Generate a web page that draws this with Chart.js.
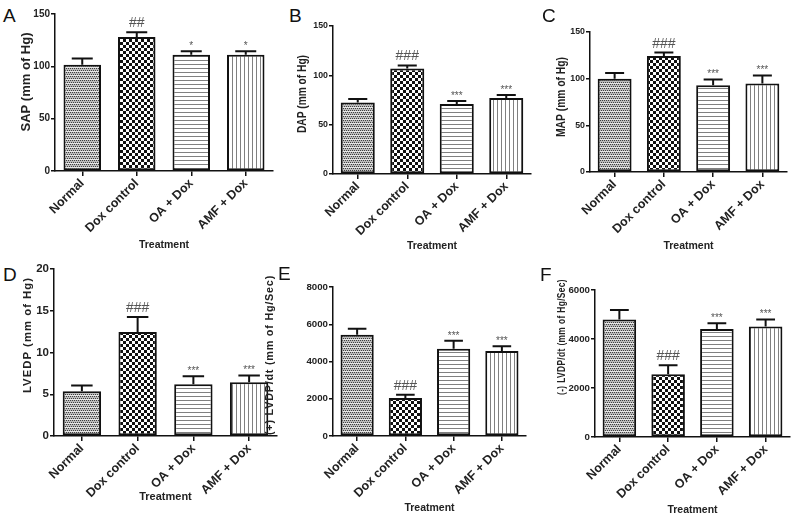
<!DOCTYPE html>
<html>
<head>
<meta charset="utf-8">
<script src="https://cdn.jsdelivr.net/npm/chart.js@4.4.0/dist/chart.umd.min.js"></script>
<style>
  body { margin: 0; background: #fff; width: 800px; height: 521px; position: relative; overflow: hidden; font-family: "Liberation Sans", Arial, sans-serif; }
  canvas { position: absolute; }
  .letter { position: absolute; font-size: 19px; line-height: 1; color: #111; }
</style>
</head>
<body>
<script>
// groups (x categories)
const groups = ["Normal", "Dox control", "OA + Dox", "AMF + Dox"];

// A - SAP
const sapMean = [101.5, 128, 111, 111];
const sapErr = [6, 4.5, 3.5, 3.5];
const sapMarks = ["", "##", "*", "*"];
// B - DAP
const dapMean = [72.5, 107, 71, 77];
const dapErr = [3.5, 3, 3, 3];
const dapMarks = ["", "###", "***", "***"];
// C - MAP
const mapMean = [100, 124.3, 93, 94.7];
const mapErr = [6, 3.7, 6.2, 8.8];
const mapMarks = ["", "###", "***", "***"];
// D - LVEDP
const lvedpMean = [5.35, 12.45, 6.2, 6.45];
const lvedpErr = [0.7, 1.8, 0.95, 0.8];
const lvedpMarks = ["", "###", "***", "***"];
// E - (+) LVDP/dt
const plusMean = [5440, 2040, 4690, 4570];
const plusErr = [320, 180, 430, 250];
const plusMarks = ["", "###", "***", "***"];
// F - (-) LVDP/dt
const minusMean = [4800, 2560, 4410, 4510];
const minusErr = [380, 370, 230, 290];
const minusMarks = ["", "###", "***", "***"];

// panel layout (page coords): canvas box, plot area, y title [x, y, size, spacing, length]
const panels = [
  { letter: "A", lx: 3, ly: 6, box: [0, 0, 278, 260], area: [55, 14, 273, 171], yt: [27, 82, 12, 0, 99], xTitleY: 245, tfs: 10,
    yTitle: "SAP (mm of Hg)", max: 150, step: 50, mean: sapMean, err: sapErr, marks: sapMarks },
  { letter: "B", lx: 289, ly: 6, box: [265, 0, 270, 260], area: [333, 26, 531, 174], yt: [303, 94, 12, 0, 78], xTitleY: 246, tfs: 8.8,
    yTitle: "DAP (mm of Hg)", max: 150, step: 50, mean: dapMean, err: dapErr, marks: dapMarks },
  { letter: "C", lx: 542, ly: 6, box: [530, 0, 270, 260], area: [590, 32, 787, 172], yt: [562, 97, 12, 0, 80], xTitleY: 246, tfs: 8.8,
    yTitle: "MAP (mm of Hg)", max: 150, step: 50, mean: mapMean, err: mapErr, marks: mapMarks },
  { letter: "D", lx: 3, ly: 265, box: [0, 260, 280, 261], area: [54, 269, 277, 436], yt: [28, 335, 11, 1, 116], xTitleY: 497, tfs: 11.5,
    yTitle: "LVEDP (mm of Hg)", max: 20, step: 5, mean: lvedpMean, err: lvedpErr, marks: lvedpMarks },
  { letter: "E", lx: 278, ly: 264, box: [258, 260, 272, 261], area: [333, 287, 526, 436], yt: [270, 355, 11, 0.8, 160], xTitleY: 508, tfs: 9.7,
    yTitle: "(+) LVDP/dt (mm of Hg/Sec)", max: 8000, step: 2000, mean: plusMean, err: plusErr, marks: plusMarks },
  { letter: "F", lx: 540, ly: 265, box: [530, 260, 270, 261], area: [595, 290, 790, 437], yt: [562, 337, 11.5, 0.5, 116], xTitleY: 510, tfs: 9.7,
    yTitle: "(-) LVDP/dt (mm of Hg/Sec)", max: 6000, step: 2000, mean: minusMean, err: minusErr, marks: minusMarks },
];

// fill patterns like the GraphPad bars
function makePattern(kind) {
  const c = document.createElement("canvas");
  const g = c.getContext("2d");
  if (kind === "dots") {
    c.width = 4; c.height = 4;
    g.fillStyle = "#bcbcbc"; g.fillRect(0, 0, 4, 4);
    g.fillStyle = "#404040";
    g.fillRect(0, 0, 1, 1); g.fillRect(2, 0, 1, 1); g.fillRect(1, 2, 1, 1); g.fillRect(3, 2, 1, 1);
    g.fillStyle = "#e8e8e8"; g.fillRect(0, 3, 4, 1);
  } else if (kind === "checker") {
    c.width = 6; c.height = 6;
    g.fillStyle = "#ffffff"; g.fillRect(0, 0, 6, 6);
    g.fillStyle = "#111111"; g.fillRect(0, 0, 3, 3); g.fillRect(3, 3, 3, 3);
  } else if (kind === "hlines") {
    c.width = 4; c.height = 4;
    g.fillStyle = "#ffffff"; g.fillRect(0, 0, 4, 4);
    g.fillStyle = "#808080"; g.fillRect(0, 0, 4, 1);
  } else {
    c.width = 4; c.height = 4;
    g.fillStyle = "#ffffff"; g.fillRect(0, 0, 4, 4);
    g.fillStyle = "#808080"; g.fillRect(0, 0, 1, 4);
  }
  return g.createPattern(c, "repeat");
}

// upper error bars + significance marks
const errorBars = {
  id: "errorBars",
  afterDatasetsDraw(chart) {
    const ctx = chart.ctx;
    const ds = chart.data.datasets[0];
    const y = chart.scales.y;
    const meta = chart.getDatasetMeta(0);
    ctx.save();
    ctx.strokeStyle = "#111";
    ctx.lineWidth = 2;
    meta.data.forEach((bar, i) => {
      const top = y.getPixelForValue(ds.data[i] + ds.errors[i]);
      const half = bar.width * 0.28;
      ctx.beginPath();
      ctx.moveTo(bar.x, bar.y);
      ctx.lineTo(bar.x, top);
      ctx.moveTo(bar.x - half, top);
      ctx.lineTo(bar.x + half, top);
      ctx.stroke();
      const m = ds.marks[i];
      if (m) {
        const star = m.indexOf("*") >= 0;
        ctx.fillStyle = "#555";
        ctx.font = (star ? "10px" : "14px") + " 'Liberation Sans', Arial, sans-serif";
        ctx.textAlign = "center";
        ctx.textBaseline = "alphabetic";
        ctx.fillText(m, bar.x, star ? top - 2 : top - 5);
      }
    });
    ctx.restore();
  }
};

// y axis title, placed and squeezed like the original figure
const yTitle = {
  id: "yTitle",
  afterDraw(chart, args, o) {
    const ctx = chart.ctx;
    ctx.save();
    ctx.font = "bold " + o.size + "px 'Liberation Sans', Arial, sans-serif";
    ctx.letterSpacing = o.spacing + "px";
    const w = ctx.measureText(o.text).width;
    ctx.translate(o.x, o.y);
    ctx.rotate(-Math.PI / 2);
    ctx.scale(o.len / w, 1);
    ctx.fillStyle = "#222";
    ctx.textAlign = "center";
    ctx.textBaseline = "middle";
    ctx.fillText(o.text, 0, 0);
    ctx.restore();
  }
};

const fills = [makePattern("dots"), makePattern("checker"), makePattern("hlines"), makePattern("vlines")];
const fam = "'Liberation Sans', Arial, sans-serif";

panels.forEach((p) => {
  const [bx, by, bw, bh] = p.box;
  const [al, at, ar, ab] = p.area;

  const letter = document.createElement("div");
  letter.className = "letter";
  letter.textContent = p.letter;
  letter.style.left = p.lx + "px";
  letter.style.top = p.ly + "px";
  document.body.appendChild(letter);

  const cv = document.createElement("canvas");
  cv.width = bw; cv.height = bh;
  cv.style.left = bx + "px"; cv.style.top = by + "px";
  document.body.appendChild(cv);

  const xTitleSize = p.letter === "D" ? 11 : 10.5;

  new Chart(cv.getContext("2d"), {
    type: "bar",
    data: {
      labels: groups,
      datasets: [{
        data: p.mean,
        errors: p.err,
        marks: p.marks,
        backgroundColor: fills,
        borderColor: "#111",
        borderWidth: 2,
        borderSkipped: false,
        barPercentage: 0.8,
        categoryPercentage: 0.86,
      }],
    },
    options: {
      responsive: false,
      animation: false,
      layout: { padding: { left: 0, top: at - by, right: bx + bw - ar, bottom: 0 } },
      plugins: {
        legend: { display: false },
        tooltip: { enabled: false },
        yTitle: { text: p.yTitle, x: p.yt[0] - bx, y: p.yt[1] - by, size: p.yt[2], spacing: p.yt[3], len: p.yt[4] },
      },
      scales: {
        x: {
          afterFit: (s) => { s.height = by + bh - ab; },
          grid: { display: true, drawOnChartArea: false, drawTicks: true, tickLength: 5, offset: false, color: "#111", lineWidth: 1.5 },
          border: { display: true, color: "#111", width: 1.5 },
          ticks: {
            autoSkip: false, minRotation: 45, maxRotation: 45, padding: 0,
            color: "#222", font: { family: fam, size: 12.5, weight: "bold" },
          },
          title: {
            display: true, text: "Treatment", color: "#222",
            font: { family: fam, size: xTitleSize, weight: "bold" },
            padding: { top: 0, bottom: by + bh - p.xTitleY - xTitleSize * 0.6 },
          },
        },
        y: {
          min: 0, max: p.max,
          afterFit: (s) => { s.width = al - bx; },
          grid: { display: true, drawOnChartArea: false, drawTicks: true, tickLength: 4, color: "#111", lineWidth: 1.5 },
          border: { display: true, color: "#111", width: 1.5 },
          ticks: {
            stepSize: p.step, padding: 1, color: "#222",
            font: { family: fam, size: p.tfs, weight: "bold" },
            callback: (v) => String(v),
          },
        },
      },
    },
    plugins: [errorBars, yTitle],
  });
});
</script>
</body>
</html>
